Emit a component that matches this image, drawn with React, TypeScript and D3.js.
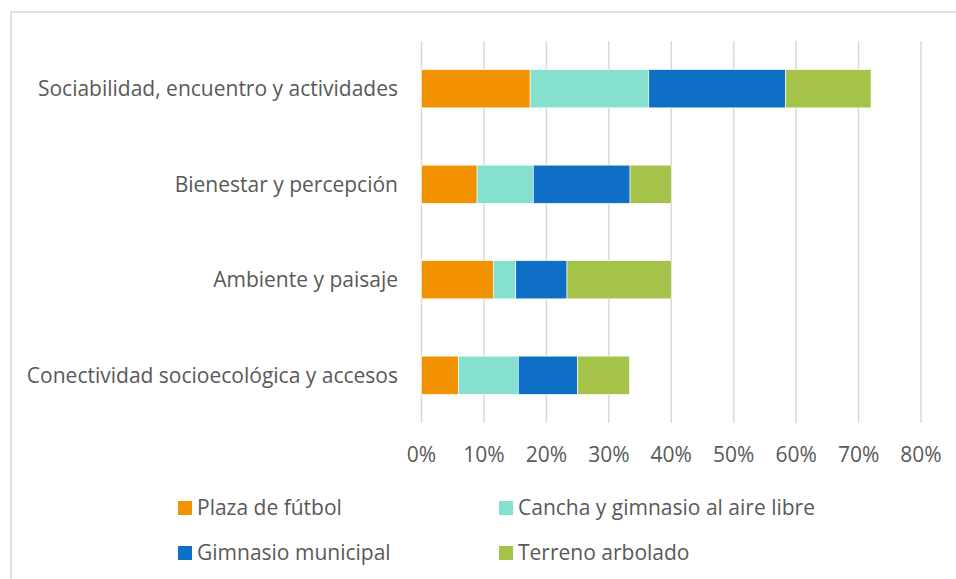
import React, { useEffect, useRef } from "react";
import * as d3 from "d3";

const W = 956;
const H = 579;

const categories = [
  "Sociabilidad, encuentro y actividades",
  "Bienestar y percepción",
  "Ambiente y paisaje",
  "Conectividad socioecológica y accesos",
];

const seriesNames = [
  "Plaza de fútbol",
  "Cancha y gimnasio al aire libre",
  "Gimnasio municipal",
  "Terreno arbolado",
];

const seriesColors = ["#F39200", "#86E0D0", "#0F6FC6", "#A5C249"];

// one array per series, in category order (fraction of respondents)
const plazaFutbol = [0.174, 0.089, 0.115, 0.059];
const canchaGimnasio = [0.19, 0.09, 0.036, 0.096];
const gimnasioMunicipal = [0.219, 0.155, 0.082, 0.095];
const terrenoArbolado = [0.137, 0.066, 0.167, 0.083];

const xTicks = [0, 0.1, 0.2, 0.3, 0.4, 0.5, 0.6, 0.7, 0.8];

const FONT = "'Open Sans', 'Noto Sans', sans-serif";
const FONT_SIZE = 21;
const TEXT = "#595959";
const GRID = "#d9d9d9";

export default function App() {
  const svgRef = useRef<SVGSVGElement | null>(null);

  useEffect(() => {
    const svg = d3.select(svgRef.current);
    svg.selectAll("*").remove();

    const rows = categories.map((c, i) => ({
      category: c,
      s0: plazaFutbol[i],
      s1: canchaGimnasio[i],
      s2: gimnasioMunicipal[i],
      s3: terrenoArbolado[i],
    }));
    const keys = ["s0", "s1", "s2", "s3"];
    const stacked = d3.stack<any>().keys(keys)(rows);

    const x = d3.scaleLinear().domain([0, 0.8]).range([421.5, 921]);
    const y = d3
      .scaleBand()
      .domain(categories)
      .range([41, 423])
      .paddingInner(0.6)
      .paddingOuter(0.3);

    // chart frame (right and bottom edges fall outside the picture)
    svg
      .append("rect")
      .attr("x", 11)
      .attr("y", 12)
      .attr("width", W + 20)
      .attr("height", H + 20)
      .attr("fill", "#fff")
      .attr("stroke", GRID)
      .attr("stroke-width", 1.5);

    // gridlines
    svg
      .append("g")
      .selectAll("line")
      .data(xTicks)
      .join("line")
      .attr("x1", (d) => x(d))
      .attr("x2", (d) => x(d))
      .attr("y1", 41)
      .attr("y2", 423)
      .attr("stroke", GRID)
      .attr("stroke-width", 1.5);

    // bars
    svg
      .append("g")
      .selectAll("g")
      .data(stacked)
      .join("g")
      .attr("fill", (_, i) => seriesColors[i])
      .selectAll("rect")
      .data((d) => d)
      .join("rect")
      .attr("x", (d) => x(d[0]))
      .attr("y", (d) => y(d.data.category)!)
      .attr("width", (d) => x(d[1]) - x(d[0]))
      .attr("height", y.bandwidth())
      .attr("stroke", "#fff")
      .attr("stroke-width", 0.6);

    // category labels
    svg
      .append("g")
      .selectAll("text")
      .data(categories)
      .join("text")
      .attr("x", 398)
      .attr("y", (d) => y(d)! + y.bandwidth() / 2)
      .attr("dy", "0.35em")
      .attr("text-anchor", "end")
      .attr("font-family", FONT)
      .attr("font-size", FONT_SIZE)
      .attr("fill", TEXT)
      .text((d) => d);

    // x tick labels
    svg
      .append("g")
      .selectAll("text")
      .data(xTicks)
      .join("text")
      .attr("x", (d) => x(d))
      .attr("y", 455)
      .attr("dy", "0.35em")
      .attr("text-anchor", "middle")
      .attr("font-family", FONT)
      .attr("font-size", FONT_SIZE)
      .attr("fill", TEXT)
      .text((d) => d3.format(".0%")(d));

    // legend, 2 columns
    const legend = svg
      .append("g")
      .selectAll("g")
      .data(seriesNames)
      .join("g")
      .attr(
        "transform",
        (_, i) => `translate(${i % 2 === 0 ? 178 : 499},${i < 2 ? 508 : 553})`
      );
    legend
      .append("rect")
      .attr("x", 0)
      .attr("y", -7)
      .attr("width", 14)
      .attr("height", 14)
      .attr("fill", (_, i) => seriesColors[i]);
    legend
      .append("text")
      .attr("x", 19)
      .attr("y", 0)
      .attr("dy", "0.35em")
      .attr("font-family", FONT)
      .attr("font-size", FONT_SIZE)
      .attr("fill", TEXT)
      .text((d) => d);
  }, []);

  return (
    <div style={{ position: "absolute", left: 0, top: 0 }}>
      <svg ref={svgRef} width={W} height={H} style={{ display: "block" }} />
    </div>
  );
}
